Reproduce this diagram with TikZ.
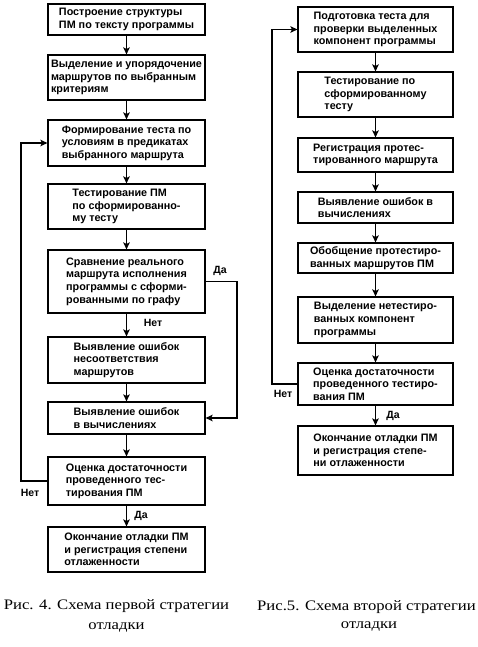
\documentclass[tikz,border=0pt]{standalone}
\usepackage{fontspec}
\setmainfont{Liberation Serif}
\setsansfont{Liberation Sans}
\newfontfamily\capfont[FakeStretch=1.15]{Liberation Serif}
\usetikzlibrary{arrows.meta}
\begin{document}
\begin{tikzpicture}[x=1pt,y=-1pt,
  boxL/.style={draw,line width=1.2pt,minimum width=157pt,inner xsep=2pt,align=left,
    font=\sffamily\bfseries\fontsize{10.8}{12.6}\selectfont},
  boxR/.style={boxL,minimum width=155pt},
  flow/.style={line width=1.6pt,-{Stealth[length=7pt,width=6.5pt,inset=1.5pt]}},
  lbl/.style={font=\sffamily\bfseries\fontsize{10.5}{12}\selectfont,inner sep=0pt},
  captxt/.style={font=\capfont\fontsize{14.5}{20}\selectfont,align=center,inner sep=0pt}]
\useasboundingbox (0,0) rectangle (477,647);
% left column
\node[boxL,minimum height=31pt] (L1) at (126.5,19.5) {Построение структуры\\ПМ по тексту программы};
\node[boxL,minimum height=45pt] (L2) at (126.5,77.5) {Выделение и упорядочение\\маршрутов по выбранным\\критериям};
\node[boxL,minimum height=46pt] (L3) at (126.5,143) {Формирование теста по\\условиям в предикатах\\выбранного маршрута};
\node[boxL,minimum height=45pt] (L4) at (126.5,206.5) {Тестирование ПМ\\по сформированно-\\му тесту};
\node[boxL,minimum height=63pt] (L5) at (126.5,281.5) {Сравнение реального\\маршрута исполнения\\программы с сформи-\\рованными по  графу};
\node[boxL,minimum height=46pt] (L6) at (126.5,360) {Выявление ошибок\\несоответствия\\маршрутов};
\node[boxL,minimum height=32pt] (L7) at (126.5,418) {Выявление ошибок\\в вычислениях};
\node[boxL,minimum height=48pt] (L8) at (126.5,481) {Оценка достаточности\\проведенного тес-\\тирования ПМ};
\node[boxL,minimum height=45pt] (L9) at (126.5,549.5) {Окончание отладки ПМ\\и регистрация  степени\\отлаженности};
\draw[flow] (L1) -- (L2);
\draw[flow] (L2) -- (L3);
\draw[flow] (L3) -- (L4);
\draw[flow] (L4) -- (L5);
\draw[flow] (L5) -- (L6);
\draw[flow] (L6) -- (L7);
\draw[flow] (L7) -- (L8);
\draw[flow] (L8) -- (L9);
\coordinate (LA) at (21,481);
\coordinate (LB) at (21,143);
\draw[flow] (L8.west) -- (LA) -- (LB) -- (L3.west);
\coordinate (DA) at (237,281.5);
\coordinate (DB) at (237,418);
\draw[flow] (L5.east) -- (DA) -- (DB) -- (L7.east);
\node[lbl] (lD1) at (220,271) {Да};
\node[lbl] (lN1) at (153,323) {Нет};
\node[lbl] (lN2) at (30,493) {Нет};
\node[lbl] (lD2) at (141,516) {Да};
% right column
\node[boxR,minimum height=45pt] (R1) at (375.5,29.5) {Подготовка теста для\\проверки выделенных\\компонент программы};
\node[boxR,minimum height=45pt] (R2) at (375.5,94.5) {Тестирование по\\сформированному\\тесту};
\node[boxR,minimum height=34pt] (R3) at (375.5,155) {Регистрация протес-\\тированного маршрута};
\node[boxR,minimum height=31pt] (R4) at (375.5,207.5) {Выявление ошибок в\\вычислениях};
\node[boxR,minimum height=30pt] (R5) at (375.5,258) {Обобщение протестиро-\\ванных маршрутов ПМ};
\node[boxR,minimum height=46pt] (R6) at (375.5,320) {Выделение нетестиро-\\ванных компонент\\программы};
\node[boxR,minimum height=42pt] (R7) at (375.5,384) {Оценка достаточности\\проведенного тестиро-\\вания ПМ};
\node[boxR,minimum height=49pt] (R8) at (375.5,450.5) {Окончание отладки ПМ\\и регистрация   степе-\\ни отлаженности};
\draw[flow] (R1) -- (R2);
\draw[flow] (R2) -- (R3);
\draw[flow] (R3) -- (R4);
\draw[flow] (R4) -- (R5);
\draw[flow] (R5) -- (R6);
\draw[flow] (R6) -- (R7);
\draw[flow] (R7) -- (R8);
\coordinate (RA) at (272,384);
\coordinate (RB) at (272,29.5);
\draw[flow] (R7.west) -- (RA) -- (RB) -- (R1.west);
\node[lbl] (lN3) at (283,394) {Нет};
\node[lbl] (lD3) at (393,416) {Да};
% captions
\node[captxt] (c1) at (116.5,616) {Рис. 4. Схема первой стратегии\\отладки};
\node[captxt,anchor=west] (c2) at (257,607) {Рис.5. Схема второй стратегии};
\node[captxt] (c3) at (369,626) {отладки};
\end{tikzpicture}
\end{document}
